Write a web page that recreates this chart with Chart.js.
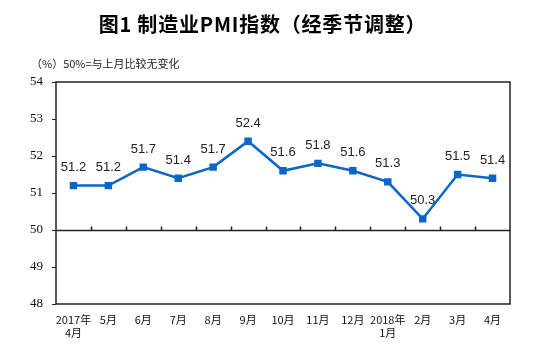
<!DOCTYPE html>
<html>
<head>
<meta charset="utf-8">
<script src="https://cdn.jsdelivr.net/npm/chart.js@4"></script>
<style>
  body { margin: 0; background: #fff; }
  #wrap { position: relative; width: 543px; height: 347px; }
  #chart { position: absolute; left: 0; top: 0; }
  #title { position: absolute; left: 5px; width: 515px; top: 10px; text-align: center;
           font: bold 20px "Noto Sans CJK SC", sans-serif; color: #000; line-height: 28px;
           letter-spacing: 0.8px; }
  #sub { position: absolute; left: 31px; top: 55px;
         font: 11px "Noto Sans CJK SC", sans-serif; color: #222; line-height: 16px; }
</style>
</head>
<body>
<div id="wrap">
  <canvas id="chart" width="543" height="347"></canvas>
  <div id="title">图1 制造业PMI指数（经季节调整）</div>
  <div id="sub">（%）50%=与上月比较无变化</div>
</div>
<script>
const months = [['2017年', '4月'], '5月', '6月', '7月', '8月', '9月', '10月', '11月', '12月', ['2018年', '1月'], '2月', '3月', '4月']
const pmi = [51.2, 51.2, 51.7, 51.4, 51.7, 52.4, 51.6, 51.8, 51.6, 51.3, 50.3, 51.5, 51.4]
const yTicks = [48, 49, 50, 51, 52, 53, 54]

// box around the plot, base line at 50, small ticks between months, value labels
const extras = {
    id: 'extras',
    beforeDatasetsDraw(chart){
        const ctx = chart.ctx
        const a = chart.chartArea
        const x = chart.scales.x
        const y = chart.scales.y
        ctx.save()
        ctx.strokeStyle = '#222'
        ctx.lineWidth = 1.5
        ctx.strokeRect(a.left, a.top, a.right - a.left, a.bottom - a.top)
        const y50 = Math.round(y.getPixelForValue(50)) + 0.5
        ctx.beginPath()
        ctx.moveTo(a.left, y50)
        ctx.lineTo(a.right, y50)
        for (let i = 1; i < months.length; i++) {
            const bx = Math.round((x.getPixelForValue(i - 1) + x.getPixelForValue(i)) / 2) + 0.5
            ctx.moveTo(bx, y50)
            ctx.lineTo(bx, y50 - 4)
        }
        ctx.stroke()
        ctx.restore()
    },
    afterDatasetsDraw(chart){
        const ctx = chart.ctx
        const meta = chart.getDatasetMeta(0)
        ctx.save()
        ctx.font = '13px "Liberation Sans", Arial, sans-serif'
        ctx.fillStyle = '#222'
        ctx.textAlign = 'center'
        ctx.textBaseline = 'middle'
        meta.data.forEach((pt, i) => {
            ctx.fillText(pmi[i].toFixed(1), pt.x, pt.y - 18)
        })
        ctx.restore()
    }
}

const ctx = document.getElementById('chart').getContext('2d')
new Chart(ctx, {
    type: 'line',
    data: {
        labels: months,
        datasets: [{
            data: pmi,
            borderColor: '#0A66C8',
            backgroundColor: '#0A66C8',
            borderWidth: 2.5,
            pointStyle: 'rect',
            pointRadius: 3.5,
            pointHoverRadius: 3.5,
            tension: 0
        }]
    },
    options: {
        responsive: false,
        animation: false,
        events: [],
        layout: { padding: { top: 82, right: 33, bottom: 0, left: 0 } },
        plugins: { legend: { display: false }, tooltip: { enabled: false } },
        scales: {
            x: {
                offset: true,
                grid: { display: false },
                border: { display: false },
                afterFit: s => { s.height = 43 },
                ticks: {
                    autoSkip: false,
                    maxRotation: 0,
                    padding: 1,
                    color: '#111',
                    font: { family: '"Noto Sans CJK SC", serif', size: 11, lineHeight: 1.2 }
                }
            },
            y: {
                min: 48,
                max: 54,
                afterFit: s => { s.width = 56 },
                afterBuildTicks: s => { s.ticks = yTicks.map(v => ({ value: v })) },
                grid: { drawOnChartArea: false, tickLength: 4, color: '#222' },
                border: { display: false },
                ticks: {
                    padding: 9,
                    color: '#111',
                    font: { family: '"Liberation Serif", serif', size: 13 }
                }
            }
        }
    },
    plugins: [extras]
})
</script>
</body>
</html>
